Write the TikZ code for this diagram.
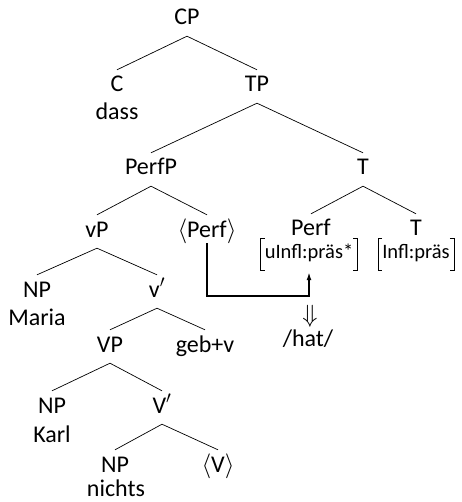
\documentclass[tikz,border=0pt]{standalone}
\usepackage{fontspec}
\setmainfont{Carlito}
\usetikzlibrary{arrows.meta}
\tikzset{
  cat/.style={anchor=base, inner sep=0pt, text height=22pt, text depth=11pt, font=\fontsize{24}{28}\selectfont},
  word/.style={anchor=base, inner sep=0pt, font=\fontsize{24}{28}\selectfont},
  feat/.style={anchor=base, inner xsep=4pt, inner ysep=0pt, text height=19pt, text depth=12pt, font=\fontsize{20.5}{24}\selectfont},
  branch/.style={line width=0.7pt},
  movearrow/.style={line width=1.5pt, -{Latex[length=8pt,width=5pt]}},
  bracket/.style={line width=0.7pt}
}
\begin{document}
\begin{tikzpicture}[x=1pt,y=-1pt]
\useasboundingbox (0,0) rectangle (461,502);
% nodes
\node[cat] (CP) at (187,25) {CP};
\node[cat] (C) at (117,92) {C};
\node[word] (dass) at (117,120) {dass};
\node[cat] (TP) at (257,92) {TP};
\node[cat] (PerfP) at (151,175) {PerfP};
\node[cat] (T) at (363,175) {T};
\node[cat] (vP) at (97,237) {vP};
\node[cat] (aPerf) at (207,237) {$\langle$Perf$\rangle$};
\node[cat] (Perf) at (311,236) {Perf};
\node[cat] (T2) at (416,236) {T};
\node[feat] (m1) at (309,258) {uInfl:präs*};
\node[feat] (m2) at (416,258) {Infl:präs};
\node[cat] (NP1) at (37,297) {NP};
\node[word] (Maria) at (37,325) {Maria};
\node[cat] (vbar) at (157,297) {v$'$};
\node[cat] (VP) at (110,352) {VP};
\node[cat] (gebv) at (205,352) {geb+v};
\node[cat] (NP2) at (52,413) {NP};
\node[word] (Karl) at (52,442) {Karl};
\node[cat] (Vbar) at (162,413) {V$'$};
\node[cat] (NP3) at (115,472) {NP};
\node[word] (nichts) at (116,496) {nichts};
\node[cat] (aV) at (218,472) {$\langle$V$\rangle$};
\node[inner sep=0pt, font=\fontsize{23}{27}\selectfont] (darr) at (310,316) {$\Downarrow$};
\node[word] (hat) at (308,346) {/hat/};
% branches
\foreach \p/\c in {CP/C, CP/TP, TP/PerfP, TP/T, T/Perf, T/T2, PerfP/vP, PerfP/aPerf,
  vP/NP1, vP/vbar, vbar/VP, vbar/gebv, VP/NP2, VP/Vbar, Vbar/NP3, Vbar/aV}
  \draw[branch] (\p.south) -- (\c.north);
% brackets
\foreach \m in {m1, m2} {
  \draw[bracket] ([xshift=4pt]\m.north west) -- (\m.north west) -- (\m.south west) -- ([xshift=4pt]\m.south west);
  \draw[bracket] ([xshift=-4pt]\m.north east) -- (\m.north east) -- (\m.south east) -- ([xshift=-4pt]\m.south east);
}
% movement arrow
\coordinate (bend) at (207,296);
\draw[movearrow] ([yshift=-6pt]aPerf.base) -- (bend) -- (m1.south |- bend) -- ([yshift=-2pt]m1.south);
\end{tikzpicture}
\end{document}
